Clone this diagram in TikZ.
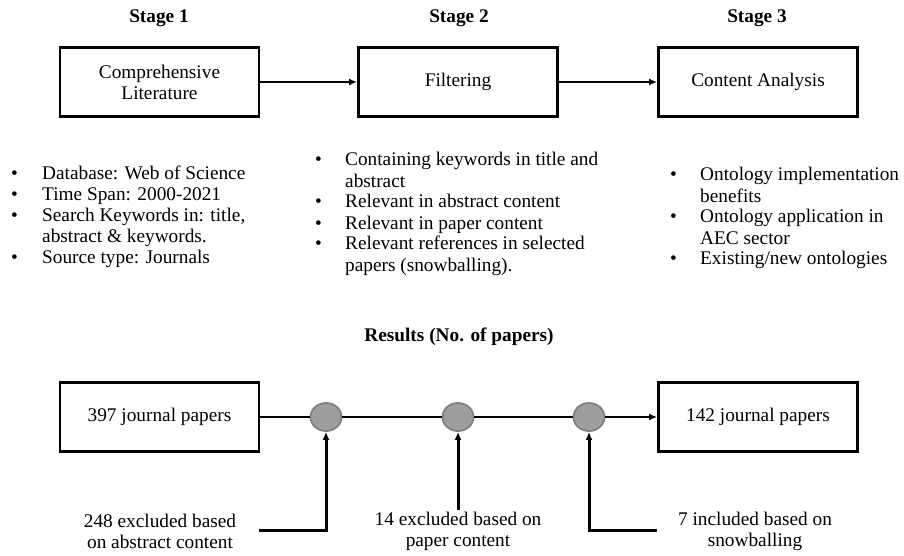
\documentclass[tikz,border=0pt]{standalone}
\usepackage{fontspec}
\setmainfont{Liberation Serif}
\usetikzlibrary{arrows.meta,shapes.geometric}
\begin{document}
\begin{tikzpicture}[x=1pt,y=-1pt,
  font=\fontsize{19.3}{21}\selectfont,
  box/.style={draw, line width=2.9pt, minimum width=199pt, minimum height=69pt, align=center, inner sep=0pt},
  lbl/.style={font=\fontsize{19.3}{21}\selectfont\bfseries},
  list/.style={inner sep=0pt, align=left},
  note/.style={align=center, inner sep=2pt},
  hub/.style={ellipse, fill=black!38, draw=black!50, line width=1.8pt, minimum width=31pt, minimum height=28pt, inner sep=0pt},
  conn/.style={line width=2.3pt},
  arr/.style={conn, -{Latex[length=8pt,width=7pt]}},
  varr/.style={line width=3pt, -{Latex[length=8pt,width=7pt]}}]
\useasboundingbox (0,0) rectangle (904,556);

% Stage labels
\node[lbl] (s1) at (159,18) {Stage 1};
\node[lbl] (s2) at (459,18) {Stage 2};
\node[lbl] (s3) at (757,18) {Stage 3};

% Stage boxes
\node[box] (b1) at (159.5,82) {Comprehensive\\Literature};
\node[box] (b2) at (458,82) {Filtering};
\node[box] (b3) at (758,82) {Content Analysis};
\draw[arr] (b1) -- (b2);
\draw[arr] (b2) -- (b3);

% Bullet lists
\node[list, anchor=base west] (l1) at (11,179) {\begin{tabular}[t]{@{}p{31pt}@{}l@{}}
•& Database: Web of Science\\
•& Time Span: 2000-2021\\
•& Search Keywords in: title,\\
 & abstract \& keywords.\\
•& Source type: Journals
\end{tabular}};
\node[list, anchor=base west] (l2) at (315,166) {\begin{tabular}[t]{@{}p{30pt}@{}l@{}}
•& Containing keywords in title and\\
 & abstract\\
•& Relevant in abstract content\\
•& Relevant in paper content\\
•& Relevant references in selected\\
 & papers (snowballing).
\end{tabular}};
\node[list, anchor=base west] (l3) at (670,181) {\begin{tabular}[t]{@{}p{30pt}@{}l@{}}
•& Ontology implementation\\
 & benefits\\
•& Ontology application in\\
 & AEC sector\\
•& Existing/new ontologies
\end{tabular}};

% Results
\node[lbl] (res) at (459,337) {Results (No. of papers)};
\node[box] (r1) at (159.5,417) {397 journal papers};
\node[box] (r2) at (758,417) {142 journal papers};
\node[hub] (h1) at (326,417) {};
\node[hub] (h2) at (458,417) {};
\node[hub] (h3) at (589,417) {};
\draw[conn] (r1) -- (h1);
\draw[conn] (h1) -- (h2);
\draw[conn] (h2) -- (h3);
\draw[arr] (h3) -- (r2);

% Bottom notes
\node[note] (e1) at (160,531) {248 excluded based\\on abstract content};
\node[note] (e2) at (458,531) {14 excluded based on\\paper content};
\node[note] (e3) at (755,531) {7 included based on\\snowballing};
\coordinate (c1) at (259,530);
\coordinate (c3) at (657,530);
\draw[varr] (c1) -| (h1.south);
\draw[varr] (e2.north) -- (h2.south);
\draw[varr] (c3) -| (h3.south);
\end{tikzpicture}
\end{document}
